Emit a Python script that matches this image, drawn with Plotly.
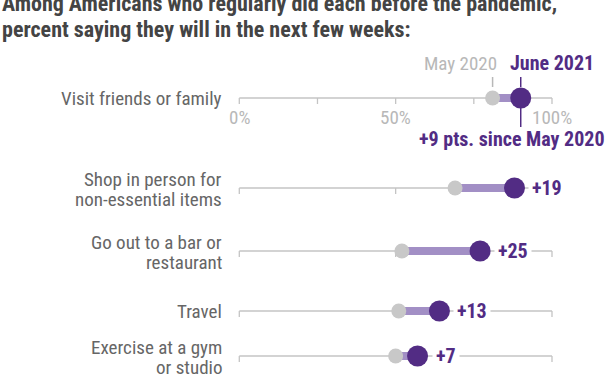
import plotly.graph_objects as go

# ---- data ----
categories = [
    "Visit friends or family",
    "Shop in person for<br>non-essential items",
    "Go out to a bar or<br>restaurant",
    "Travel",
    "Exercise at a gym<br>or studio",
]
may_2020 = [81, 69, 52, 51, 50]
june_2021 = [90, 88, 77, 64, 57]
change_labels = ["+9", "+19", "+25", "+13", "+7"]
tick_values = [0, 50, 100]
tick_labels = ["0%", "50%", "100%"]
minor_ticks_first_row = [25, 75]

# ---- layout settings ----
W, H = 612, 374
row_pos = [98, 188, 251, 311, 356]      # vertical position of each row (px from top)
px_per_pct = 3.127
zero_px = 239.3
x_range = [-zero_px / px_per_pct, (W - zero_px) / px_per_pct]
label_line_gap = 20

FONT = "Roboto Condensed, Liberation Sans Narrow, Arial Narrow, sans-serif"
PURPLE = "#522c84"
LAVENDER = "#a28fc5"
GRAY_DOT = "#c8c8c8"
LINE_GRAY = "#c4c4c4"
LABEL_GRAY = "#666666"
LIGHT_TEXT = "#b8b8b8"

fig = go.Figure()

# row baselines and ticks
for i, r in enumerate(row_pos):
    fig.add_trace(go.Scatter(x=[0, 100], y=[r, r], mode="lines",
                             line=dict(color=LINE_GRAY, width=1.3),
                             hoverinfo="skip", showlegend=False))
    ticks = tick_values + (minor_ticks_first_row if i == 0 else [])
    tx, ty = [], []
    for t in ticks:
        tx += [t, t, None]
        ty += [r, r + 6, None]
    fig.add_trace(go.Scatter(x=tx, y=ty, mode="lines",
                             line=dict(color=LINE_GRAY, width=1.3),
                             hoverinfo="skip", showlegend=False))

# connecting bars
for i, r in enumerate(row_pos):
    fig.add_trace(go.Scatter(x=[may_2020[i], june_2021[i]], y=[r, r], mode="lines",
                             line=dict(color=LAVENDER, width=8),
                             hoverinfo="skip", showlegend=False))

# dots
fig.add_trace(go.Scatter(x=may_2020, y=row_pos, mode="markers",
                         marker=dict(color=GRAY_DOT, size=15),
                         name="May 2020", showlegend=False))
fig.add_trace(go.Scatter(x=june_2021, y=row_pos, mode="markers",
                         marker=dict(color=PURPLE, size=21),
                         name="June 2021", showlegend=False))

# header leader ticks for first row
r0 = row_pos[0]
fig.add_trace(go.Scatter(x=[may_2020[0], may_2020[0]], y=[r0 - 21, r0 - 11], mode="lines",
                         line=dict(color=LIGHT_TEXT, width=1.5), hoverinfo="skip", showlegend=False))
fig.add_trace(go.Scatter(x=[june_2021[0], june_2021[0], None, june_2021[0], june_2021[0]],
                         y=[r0 - 21, r0 - 11, None, r0 + 10, r0 + 29], mode="lines",
                         line=dict(color=PURPLE, width=1.5), hoverinfo="skip", showlegend=False))

ann = []
# change labels (first row uses the long label below)
for i, r in enumerate(row_pos):
    if i == 0:
        continue
    ann.append(dict(x=june_2021[i], y=r, xref="x", yref="y", text=change_labels[i],
                    showarrow=False, xanchor="left", yanchor="middle", xshift=14,
                    bgcolor="white", borderpad=3,
                    font=dict(family=FONT, size=20, color=PURPLE, weight="bold")))
# category labels (multi-line labels split into separately spaced lines)
for i, r in enumerate(row_pos):
    lines = categories[i].split("<br>")
    n = len(lines)
    for k, line in enumerate(lines):
        offset = (k - (n - 1) / 2) * label_line_gap + (1 if n > 1 else 0)
        ann.append(dict(x=0, y=r + offset, xref="x", yref="y", text=line, showarrow=False,
                        xanchor="right", yanchor="middle", xshift=-15, align="right",
                        font=dict(family=FONT, size=19, color=LABEL_GRAY)))
# axis tick labels on first row
for v, lab in zip(tick_values, tick_labels):
    ann.append(dict(x=v, y=r0 + 19, xref="x", yref="y", text=lab, showarrow=False,
                    xanchor="center", yanchor="middle",
                    font=dict(family=FONT, size=19, color=LIGHT_TEXT)))
# headers
ann.append(dict(x=may_2020[0], y=r0 - 35, xref="x", yref="y", text="May 2020", showarrow=False,
                xanchor="right", yanchor="middle", xshift=6,
                font=dict(family=FONT, size=19, color=LIGHT_TEXT)))
ann.append(dict(x=june_2021[0], y=r0 - 35, xref="x", yref="y", text="June 2021", showarrow=False,
                xanchor="left", yanchor="middle", xshift=-13,
                font=dict(family=FONT, size=20, color=PURPLE, weight="bold")))
ann.append(dict(x=june_2021[0], y=r0 + 41, xref="x", yref="y",
                text=f"{change_labels[0]} pts. since May 2020", showarrow=False,
                xanchor="center", yanchor="middle", xshift=-9,
                font=dict(family=FONT, size=20, color=PURPLE, weight="bold")))
# title
ann.append(dict(x=0, y=3, xref="paper", yref="y",
                text="Among Americans who regularly did each before the pandemic,",
                showarrow=False, xanchor="left", yanchor="middle",
                font=dict(family=FONT, size=22, color="#444444", weight="bold")))
ann.append(dict(x=0, y=29, xref="paper", yref="y",
                text="percent saying they will in the next few weeks:",
                showarrow=False, xanchor="left", yanchor="middle",
                font=dict(family=FONT, size=22, color="#444444", weight="bold")))

fig.update_layout(
    width=W, height=H, margin=dict(l=0, r=0, t=0, b=0),
    paper_bgcolor="white", plot_bgcolor="white",
    xaxis=dict(range=x_range, visible=False, fixedrange=True),
    yaxis=dict(range=[H, 0], visible=False, fixedrange=True),
    annotations=ann, showlegend=False,
)

fig.write_html("out.html", config={"displayModeBar": False},
               post_script="document.body.style.margin='0px';")
